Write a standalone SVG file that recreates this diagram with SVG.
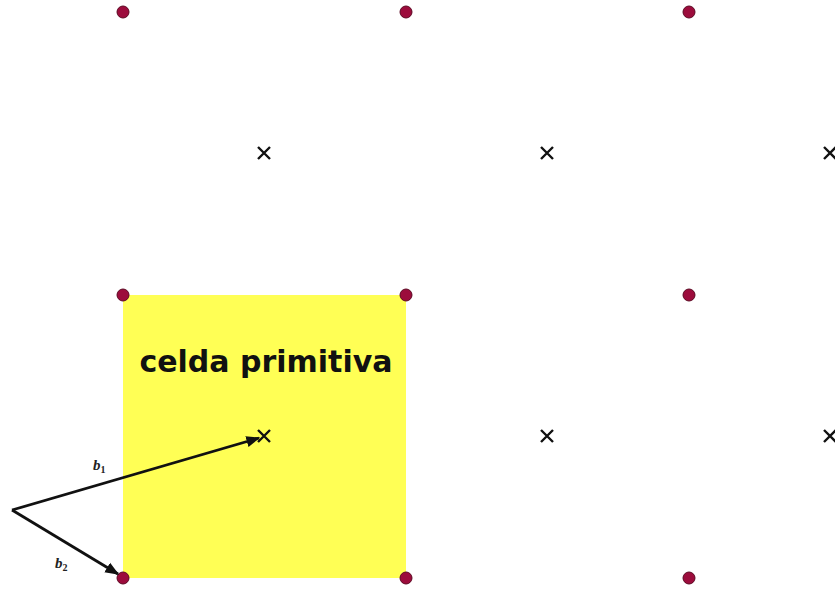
<svg xmlns="http://www.w3.org/2000/svg" width="835" height="590" viewBox="0 0 835 590">
<style>
.dot{fill:#9c0c3c;stroke:#5c0822;stroke-width:1}
.cross{stroke:#111;stroke-width:2.4;fill:none}
.vec{stroke:#111;stroke-width:2.8;fill:none}
.lbl{font-family:"Liberation Serif",serif;font-style:italic;font-weight:bold;font-size:15px;fill:#222}
.sub{font-size:10px;font-style:normal}
</style>
<defs>
<marker id="ah" viewBox="0 0 10 10" refX="9" refY="5" markerWidth="5" markerHeight="5" orient="auto" markerUnits="strokeWidth">
<path d="M0,1 L10,5 L0,9 z" fill="#111"/>
</marker>
<g id="x"><path class="cross" d="M-6,-6 L6,6 M-6,6 L6,-6"/></g>
</defs>
<rect id="cell" x="123" y="295" width="283" height="283" fill="#ffff55"/>
<text x="266" y="372" text-anchor="middle" font-family="DejaVu Sans, sans-serif" font-weight="bold" font-size="30" fill="#111">celda primitiva</text>
<g id="lattice">
<circle class="dot" cx="123" cy="12" r="6"/>
<circle class="dot" cx="406" cy="12" r="6"/>
<circle class="dot" cx="689" cy="12" r="6"/>
<circle class="dot" cx="123" cy="295" r="6"/>
<circle class="dot" cx="406" cy="295" r="6"/>
<circle class="dot" cx="689" cy="295" r="6"/>
<circle class="dot" cx="123" cy="578" r="6"/>
<circle class="dot" cx="406" cy="578" r="6"/>
<circle class="dot" cx="689" cy="578" r="6"/>
</g>
<g id="crosses">
<use href="#x" x="264" y="153"/>
<use href="#x" x="547" y="153"/>
<use href="#x" x="830" y="153"/>
<use href="#x" x="264" y="436"/>
<use href="#x" x="547" y="436"/>
<use href="#x" x="830" y="436"/>
</g>
<g id="connectors">
<path class="vec" d="M12,510 L259,438" marker-end="url(#ah)"/>
<path class="vec" d="M12,510 L118,574" marker-end="url(#ah)"/>
</g>
<text class="lbl" x="93" y="470">b<tspan class="sub" dy="3">1</tspan></text>
<text class="lbl" x="55" y="568">b<tspan class="sub" dy="3">2</tspan></text>
</svg>
